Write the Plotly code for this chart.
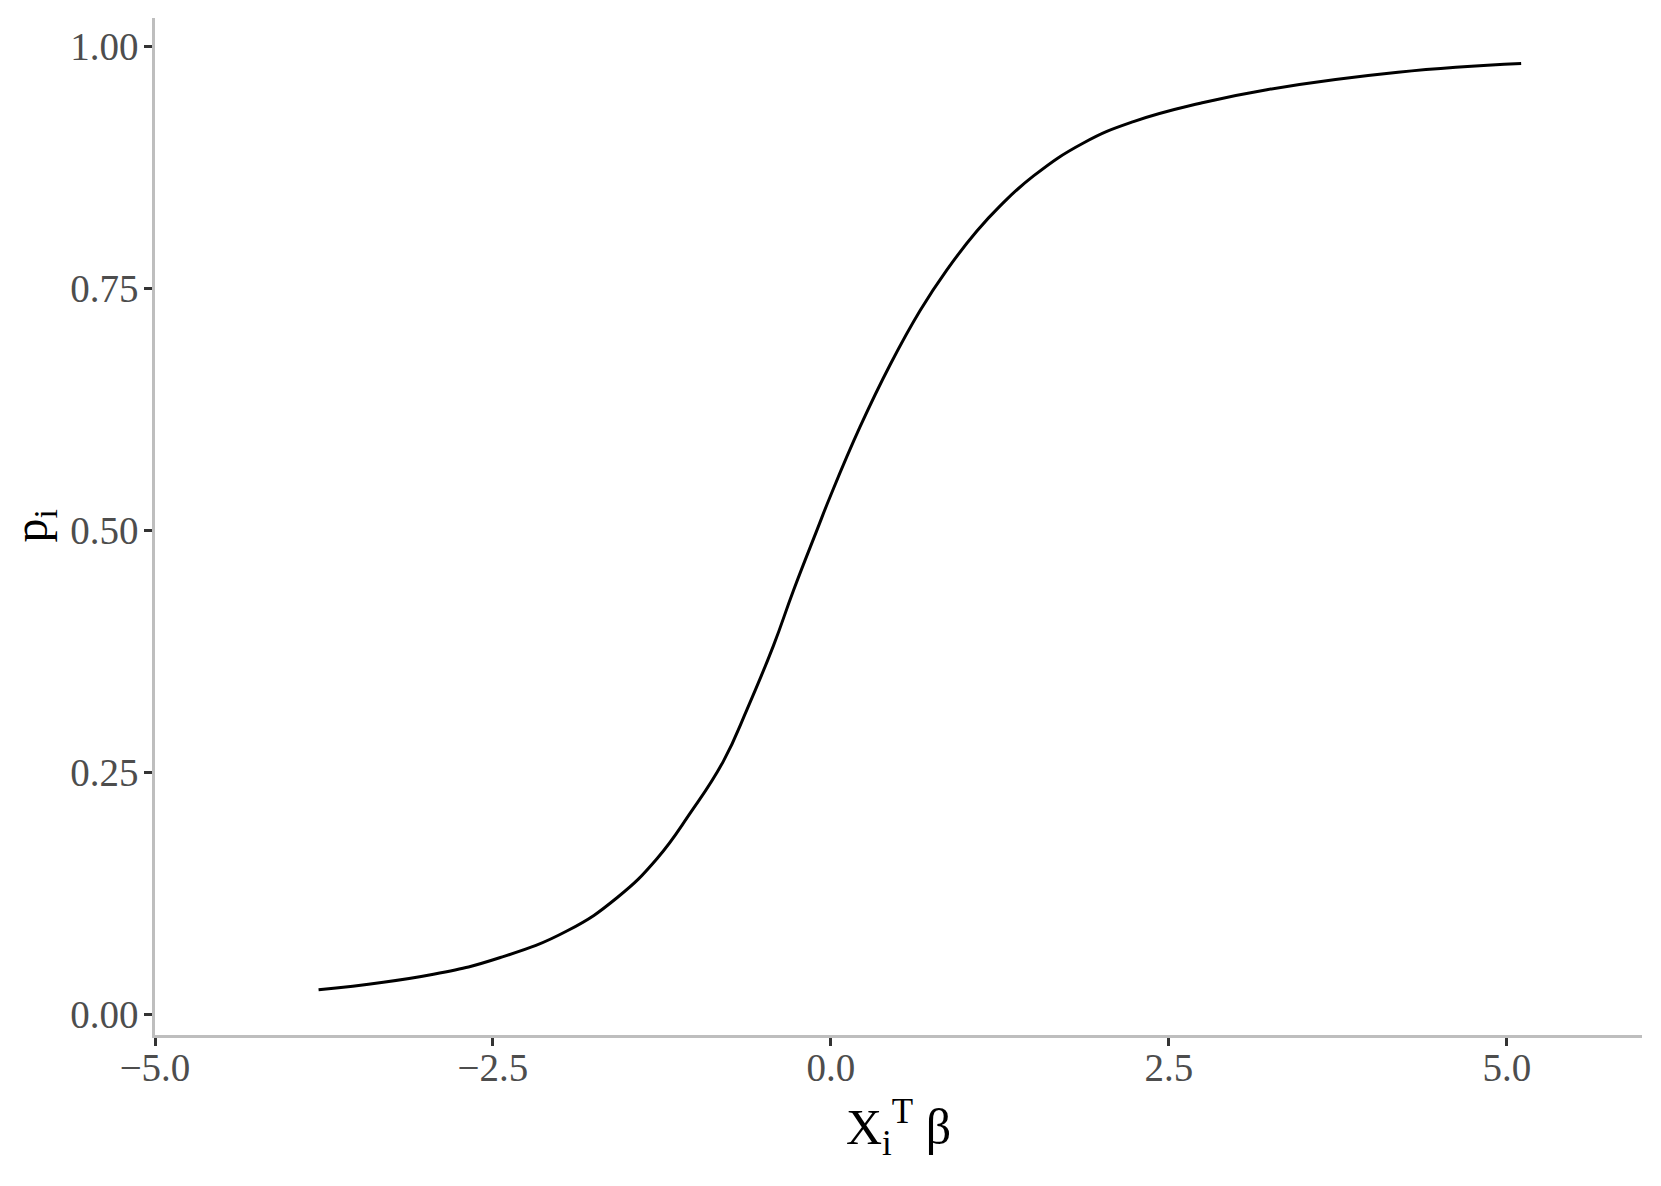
import plotly.graph_objects as go

# curve (linear predictor vs probability)
x_vals = [-3.79, -2.94, -2.445, -1.95, -1.58, -1.287, -1.041, -0.794, -0.621, -0.425,
          -0.277, -0.104, -0.005, 0.216, 0.438, 0.660, 0.858, 1.080, 1.252, 1.499,
          1.868, 2.238, 2.732, 3.225, 4.195, 5.106]
p_vals = [0.0256, 0.0418, 0.059, 0.0866, 0.121, 0.161, 0.208, 0.262, 0.315, 0.381,
          0.438, 0.500, 0.535, 0.607, 0.671, 0.727, 0.769, 0.809, 0.835, 0.866,
          0.900, 0.922, 0.941, 0.955, 0.973, 0.982]

x_ticks = [-5.0, -2.5, 0.0, 2.5, 5.0]
y_ticks = [0.00, 0.25, 0.50, 0.75, 1.00]

SERIF = "Liberation Serif, Times New Roman, serif"
AXIS_GREY = "#BEBEBE"
TICK_DARK = "#333333"
LABEL_GREY = "#4D4D4D"

fig = go.Figure()
fig.add_scatter(
    x=x_vals,
    y=p_vals,
    mode="lines",
    line=dict(color="black", width=3, shape="spline", smoothing=1.3),
    showlegend=False,
    hoverinfo="skip",
)

# page body adds an 8px offset, margins are compensated for it
fig.update_layout(
    width=1661,
    height=1186,
    template="plotly_white",
    paper_bgcolor="#ffffff",
    plot_bgcolor="#ffffff",
    font=dict(family=SERIF, color="black"),
    margin=dict(l=147, r=27, t=10, b=159),
    showlegend=False,
)

# y title placed by hand, the axis title standoff is ignored without automargin
fig.add_annotation(
    text="p<sub>i</sub>",
    xref="paper",
    yref="paper",
    x=0,
    y=0.5,
    xanchor="center",
    yanchor="middle",
    xshift=-122,
    textangle=-90,
    showarrow=False,
    font=dict(family=SERIF, size=48, color="black"),
)

fig.update_xaxes(
    range=[-5, 6],
    tickvals=x_ticks,
    tickformat=".1f",
    showgrid=False,
    zeroline=False,
    showline=True,
    linecolor=AXIS_GREY,
    linewidth=2.5,
    ticks="outside",
    ticklen=8,
    tickwidth=2.5,
    tickcolor=TICK_DARK,
    ticklabelstandoff=-12,
    tickfont=dict(family=SERIF, size=39, color=LABEL_GREY),
    title=dict(text="X<sub>i</sub><sup>T</sup> β", font=dict(family=SERIF, size=50, color="black"), standoff=22),
)
fig.update_yaxes(
    range=[-0.021, 1.029],
    tickvals=y_ticks,
    tickformat=".2f",
    showgrid=False,
    zeroline=False,
    showline=True,
    linecolor=AXIS_GREY,
    linewidth=2.5,
    ticks="outside",
    ticklen=8,
    tickwidth=2.5,
    tickcolor=TICK_DARK,
    ticklabelstandoff=-2,
    tickfont=dict(family=SERIF, size=39, color=LABEL_GREY),
)

fig.write_html("out.html")
